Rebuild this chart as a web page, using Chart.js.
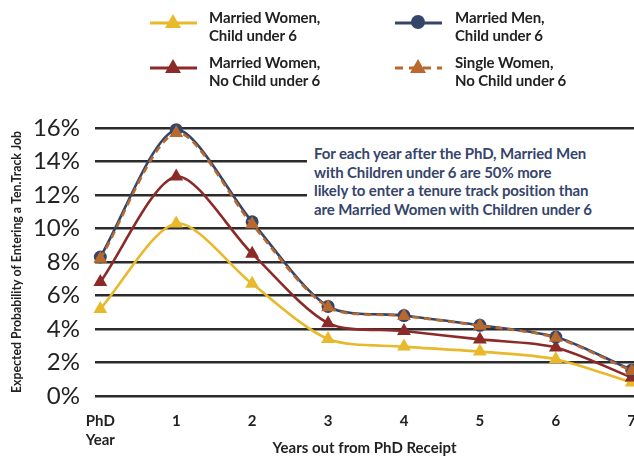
<!DOCTYPE html>
<html>
<head>
<meta charset="utf-8">
<script src="https://cdn.jsdelivr.net/npm/chart.js@4/dist/chart.umd.min.js"></script>
<style>
    body { margin: 0; background: #fff; font-family: Lato, "Noto Sans", sans-serif; }
    #wrap { position: relative; width: 634px; height: 456px; overflow: hidden; }
    #myGraph { position: absolute; left: 0; top: 0; }
    .legendItem { position: absolute; }
    .legendText { position: absolute; font-weight: bold; font-size: 15px; line-height: 18px; color: #222; white-space: nowrap; letter-spacing: -0.1px; }
    .note {
        position: absolute; left: 307px; top: 139px; width: 327px; height: 80px;
        background: #fff; color: #35456b; font-weight: bold; font-size: 15px; line-height: 18.5px;
        padding-left: 7px; padding-top: 5px; box-sizing: border-box; white-space: nowrap; letter-spacing: -0.1px;
    }
</style>
</head>
<body>
<div id="wrap">
    <canvas id="myGraph" width="634" height="456"></canvas>
    <div id="legend"></div>
    <div class="note">For each year after the PhD, Married Men<br>with Children under 6 are 50% more<br>likely to enter a tenure track position than<br>are Married Women with Children under 6</div>
</div>
<script>
// Datos (probabilidad en %)
const years = [0, 1, 2, 3, 4, 5, 6, 7];
const yearLabels = [["PhD", "Year"], "1", "2", "3", "4", "5", "6", "7"];
const yTicks = [0, 2, 4, 6, 8, 10, 12, 14, 16];

const seriesNames = [
    ["Married Women,", "Child under 6"],
    ["Married Men,", "Child under 6"],
    ["Married Women,", "No Child under 6"],
    ["Single Women,", "No Child under 6"],
];

const womenChild = [5.2, 10.3, 6.7, 3.4, 2.95, 2.65, 2.2, 0.8];
const menChild = [8.3, 15.9, 10.4, 5.35, 4.8, 4.22, 3.52, 1.55];
const womenNoChild = [6.8, 13.1, 8.5, 4.35, 3.88, 3.38, 2.9, 1.1];
const singleNoChild = [8.2, 15.7, 10.25, 5.3, 4.78, 4.2, 3.48, 1.5];

// Colores de cada serie
const colYellow = "#e9b92c";
const colNavy = "#34456a";
const colRed = "#8c2a28";
const colOrange = "#b9692d";

const toPoints = (values) => values.map((v, i) => ({ x: years[i], y: v }));

const makeSet = (label, values, color, shape, radius, dash, order) => ({
    label: label,
    data: toPoints(values),
    borderColor: color,
    backgroundColor: color,
    borderWidth: 2.6,
    borderDash: dash,
    pointStyle: shape,
    pointRadius: radius,
    pointBorderWidth: 0,
    tension: 0.28,
    clip: false,
    order: order,
});

// Leyenda en HTML con marcadores SVG
const legendSpec = [
    { color: colYellow, shape: "tri", dash: false, x: 150, y: 8 },
    { color: colNavy, shape: "circle", dash: false, x: 395, y: 8 },
    { color: colRed, shape: "tri", dash: false, x: 150, y: 53 },
    { color: colOrange, shape: "tri", dash: true, x: 395, y: 53 },
];

const renderLegend = () => {
    const legend = document.getElementById("legend");
    legendSpec.forEach((item, i) => {
        const marker = item.shape === "tri"
            ? `<polygon points="23,6 31,20 15,20" fill="${item.color}"/>`
            : `<circle cx="23" cy="14" r="7" fill="${item.color}"/>`;
        const line = item.dash
            ? `<line x1="0" y1="15" x2="47" y2="15" stroke="${item.color}" stroke-width="3" stroke-dasharray="8,6"/>`
            : `<line x1="0" y1="15" x2="47" y2="15" stroke="${item.color}" stroke-width="3"/>`;
        const svg = document.createElement("div");
        svg.className = "legendItem";
        svg.style.left = item.x + "px";
        svg.style.top = item.y + "px";
        svg.innerHTML = `<svg width="48" height="26">${line}${marker}</svg>`;
        legend.appendChild(svg);

        const text = document.createElement("div");
        text.className = "legendText";
        text.style.left = (item.x + (i % 2 === 0 ? 59 : 60)) + "px";
        text.style.top = item.y + "px";
        text.innerHTML = seriesNames[i].join("<br>");
        legend.appendChild(text);
    });
};

const ctx = document.getElementById("myGraph").getContext("2d");

const myGraph = new Chart(ctx, {
    type: "line",
    data: {
        datasets: [
            makeSet(seriesNames[3].join(" "), singleNoChild, colOrange, "triangle", 8, [7, 5], 0),
            makeSet(seriesNames[1].join(" "), menChild, colNavy, "circle", 6.5, [], 1),
            makeSet(seriesNames[2].join(" "), womenNoChild, colRed, "triangle", 8, [], 2),
            makeSet(seriesNames[0].join(" "), womenChild, colYellow, "triangle", 8, [], 3),
        ],
    },
    options: {
        responsive: false,
        animation: false,
        layout: { autoPadding: false, padding: { top: 128, right: 0, left: 0, bottom: 0 } },
        plugins: {
            legend: { display: false },
            tooltip: { enabled: false },
        },
        scales: {
            x: {
                type: "linear",
                min: -0.07,
                max: 7.03,
                grid: { display: false },
                border: { display: false },
                afterFit: (scale) => {
                    scale.height = 60;
                    scale.paddingLeft = 0;
                    scale.paddingRight = 0;
                },
                afterBuildTicks: (scale) => {
                    scale.ticks = years.map((v) => ({ value: v }));
                },
                ticks: {
                    autoSkip: false,
                    maxRotation: 0,
                    padding: 7,
                    color: "#222",
                    font: { family: "Lato", weight: "bold", size: 15, lineHeight: 1.3 },
                    callback: (value) => yearLabels[years.indexOf(value)],
                },
                title: {
                    display: true,
                    text: "Years out from PhD Receipt",
                    color: "#222",
                    padding: { top: 0, bottom: 0 },
                    font: { family: "Lato", weight: "bold", size: 15, lineHeight: 1.1 },
                },
            },
            y: {
                min: 0,
                max: 16,
                grid: { color: "#2b2b2b", lineWidth: 2.4, drawTicks: false },
                border: { display: false },
                afterFit: (scale) => {
                    scale.width = 95;
                    scale.paddingTop = 0;
                    scale.paddingBottom = 0;
                },
                afterBuildTicks: (scale) => {
                    scale.ticks = yTicks.map((v) => ({ value: v }));
                },
                ticks: {
                    padding: 15,
                    color: "#222",
                    font: { family: "Lato", size: 24 },
                    callback: (value) => value + "%",
                },
                title: {
                    display: true,
                    text: "Expected Probability of Entering a Ten.Track Job",
                    color: "#222",
                    padding: { top: 10, bottom: 0 },
                    font: { family: "Lato", weight: "bold", size: 12.3 },
                },
            },
        },
    },
});

renderLegend();
</script>
</body>
</html>
